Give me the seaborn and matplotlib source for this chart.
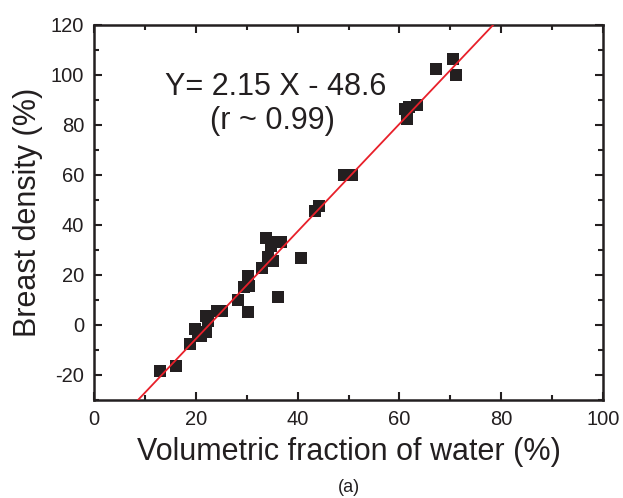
import numpy as np
import pandas as pd
import matplotlib
matplotlib.use("Agg")
import matplotlib.pyplot as plt
import seaborn as sns
from matplotlib.ticker import MultipleLocator


water = [13.0, 16.1, 18.8, 19.8, 20.4, 21.0, 21.9, 21.9, 22.3, 24.2, 25.2,
         28.3, 29.4, 30.5, 30.2, 30.3, 33.0, 33.8, 34.1, 35.1, 34.7, 35.5,
         36.8, 36.1, 40.7, 43.5, 44.1, 49.1, 50.7, 61.0, 61.9, 61.5, 63.5,
         67.1, 70.6, 71.1]
density = [-18.6, -16.5, -7.6, -1.6, -3.6, -4.5, 3.5, -2.9, 1.7, 5.7, 5.5,
           10.0, 15.0, 15.7, 19.7, 5.1, 22.6, 34.8, 27.0, 25.7, 31.7, 33.0,
           33.0, 11.0, 26.6, 45.5, 47.4, 60.0, 60.0, 86.3, 87.0, 82.3, 87.9,
           102.5, 106.3, 99.9]

slope = 2.15
intercept = -48.6


def main():
	sns.set_theme(style="ticks")
	plt.rcParams["font.family"] = ["Liberation Sans", "DejaVu Sans"]
	plt.rcParams["axes.unicode_minus"] = False

	df = pd.DataFrame({"water": water, "density": density})
	fit_x = np.array([0.0, 100.0])
	fit = pd.DataFrame({"water": fit_x, "density": slope * fit_x + intercept})

	fig = plt.figure(figsize=(6.23, 4.98), dpi=100)
	ax = fig.add_axes([0.151, 0.197, 0.817, 0.753])

	sns.lineplot(data=fit, x="water", y="density", color="#e8202a",
		linewidth=1.3, ax=ax, zorder=3)
	sns.scatterplot(data=df, x="water", y="density", marker="s", s=75,
		color="#231f20", edgecolor="none", ax=ax, zorder=2)

	ax.set_xlim(0, 100)
	ax.set_ylim(-30, 120)
	ax.xaxis.set_major_locator(MultipleLocator(20))
	ax.xaxis.set_minor_locator(MultipleLocator(10))
	ax.yaxis.set_major_locator(MultipleLocator(20))
	ax.yaxis.set_minor_locator(MultipleLocator(10))
	ax.tick_params(which="both", direction="in", top=True, right=True,
		width=1.5, colors="#231f20", labelsize=14.5, pad=7)
	ax.tick_params(which="major", length=6)
	ax.tick_params(which="minor", length=3.5)
	for sp in ax.spines.values():
		sp.set_linewidth(1.8)
		sp.set_color("#231f20")

	ax.set_xlabel("Volumetric fraction of water (%)", fontsize=22,
		color="#231f20", labelpad=6)
	ax.set_ylabel("Breast density (%)", fontsize=22, color="#231f20",
		labelpad=6)

	ax.text(35.6, 95.0, "Y= 2.15 X - 48.6", fontsize=22, ha="center",
		va="center", color="#231f20")
	ax.text(35.0, 81.5, "(r ~ 0.99)", fontsize=22, ha="center",
		va="center", color="#231f20")

	fig.text(0.56, 0.004, "(a)", fontsize=13, ha="center", va="bottom",
		color="#231f20")

	fig.savefig("out.png", dpi=100)
	plt.close(fig)


if __name__ == "__main__":
	main()
